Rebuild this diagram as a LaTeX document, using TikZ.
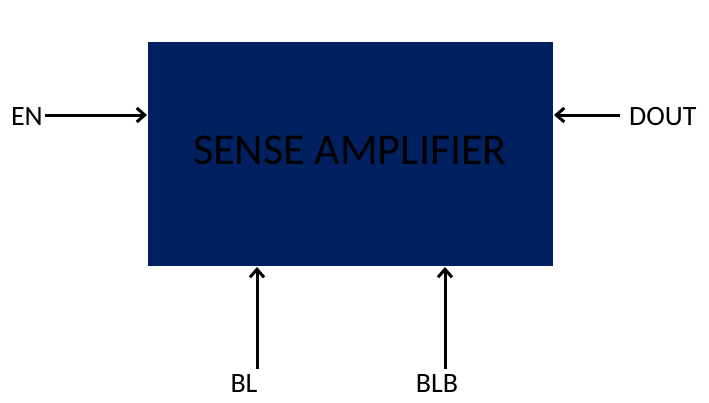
\documentclass[tikz,border=0pt]{standalone}
\usepackage{fontspec}
\setmainfont{Carlito}
\usetikzlibrary{arrows.meta}
\definecolor{navy}{HTML}{002060}
\tikzset{
  sig/.style={line width=3pt,-{Straight Barb[length=8pt,width=14pt,line width=3pt]}},
  lbl/.style={inner sep=0pt,font=\fontsize{28}{30}\selectfont},
}
\begin{document}
\begin{tikzpicture}[x=1pt,y=-1pt]
\useasboundingbox (0,0) rectangle (709,402);
\node[fill=navy,draw=none,minimum width=405pt,minimum height=224pt,inner sep=0pt,anchor=north west] (sa) at (148,42) {};
\node[inner sep=0pt,font=\fontsize{44}{48}\selectfont] (t) at (350,150) {SENSE AMPLIFIER};
\node[lbl,anchor=east] (en) at (43,117) {EN};
\node[lbl,anchor=west] (dout) at (629,117) {DOUT};
\node[lbl,anchor=north] (bl) at (244,374) {BL};
\node[lbl,anchor=north] (blb) at (437,374) {BLB};
\coordinate (enS) at (45,115);
\coordinate (enE) at (147,115);
\coordinate (doS) at (620,115);
\coordinate (doE) at (554,115);
\coordinate (blS) at (257,369);
\coordinate (blE) at (257,267);
\coordinate (bbS) at (445,369);
\coordinate (bbE) at (445,267);
\draw[sig] (enS) -- (enE);
\draw[sig] (doS) -- (doE);
\draw[sig] (blS) -- (blE);
\draw[sig] (bbS) -- (bbE);
\end{tikzpicture}
\end{document}
